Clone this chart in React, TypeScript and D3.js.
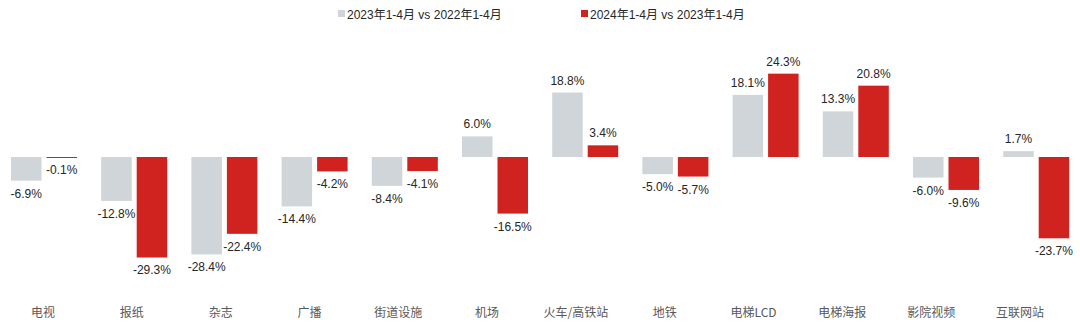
import React from "react";
import * as d3 from "d3";

const categories = ["电视", "报纸", "杂志", "广播", "街道设施", "机场", "火车/高铁站", "地铁", "电梯LCD", "电梯海报", "影院视频", "互联网站"];
const series2023 = [-6.9, -12.8, -28.4, -14.4, -8.4, 6.0, 18.8, -5.0, 18.1, 13.3, -6.0, 1.7];
const series2024 = [-0.1, -29.3, -22.4, -4.2, -4.1, -16.5, 3.4, -5.7, 24.3, 20.8, -9.6, -23.7];
const seriesNames = ["2023年1-4月 vs 2022年1-4月", "2024年1-4月 vs 2023年1-4月"];

const W = 1080;
const H = 329;
const COLORS = ["#cfd5d8", "#d0231f"];
const FONT = "Arial, 'Liberation Sans', 'Noto Sans CJK SC', sans-serif";

export default function App() {
  const zeroY = 157;
  const pxPer = 3.43;
  const y = d3.scaleLinear().domain([-30, 25]).range([zeroY + 30 * pxPer, zeroY - 25 * pxPer]);
  const x0 = d3.scaleBand<string>().domain(categories).range([0, 12 * 90.2]).padding(0);
  const x1 = d3.scaleBand<string>().domain(["a", "b"]).range([11, 77]).paddingInner(5 / 35.5).paddingOuter(0);
  const xl = d3.scalePoint<string>().domain(categories).range([43, 1020]);
  const keys = ["a", "b"];
  const data = [series2023, series2024];

  return (
    <svg width={W} height={H} style={{ position: "absolute", left: 0, top: 0, background: "#fff" }} fontFamily={FONT}>
      <g>
        <rect x={338} y={10} width={7} height={7} fill={COLORS[0]} />
        <text x={347} y={18.5} fontSize={12} fill="#262626">{seriesNames[0]}</text>
        <rect x={581} y={10} width={7} height={7} fill={COLORS[1]} />
        <text x={590} y={18.5} fontSize={12} fill="#262626">{seriesNames[1]}</text>
      </g>
      {categories.map((c, i) => (
        <g key={c}>
          <g transform={`translate(${x0(c)},0)`}>
            {keys.map((k, s) => {
              const v = data[s][i];
              const bx = x1(k)!;
              const bw = x1.bandwidth();
              const top = Math.min(y(v), y(0));
              const h = Math.max(Math.abs(y(v) - y(0)), 1);
              const label = `${v.toFixed(1)}%`;
              const ly = v >= 0 ? y(v) - 8 : y(v) + 17;
              return (
                <g key={k}>
                  <rect x={bx} y={top} width={bw} height={h} fill={COLORS[s]} />
                  <text x={bx + bw / 2} y={ly} textAnchor="middle" fontSize={12} fill="#262626">{label}</text>
                </g>
              );
            })}
          </g>
          <text x={xl(c)} y={317} textAnchor="middle" fontSize={12} fill="#595959" fontFamily="'Noto Sans CJK SC', sans-serif">{c}</text>
        </g>
      ))}
    </svg>
  );
}
